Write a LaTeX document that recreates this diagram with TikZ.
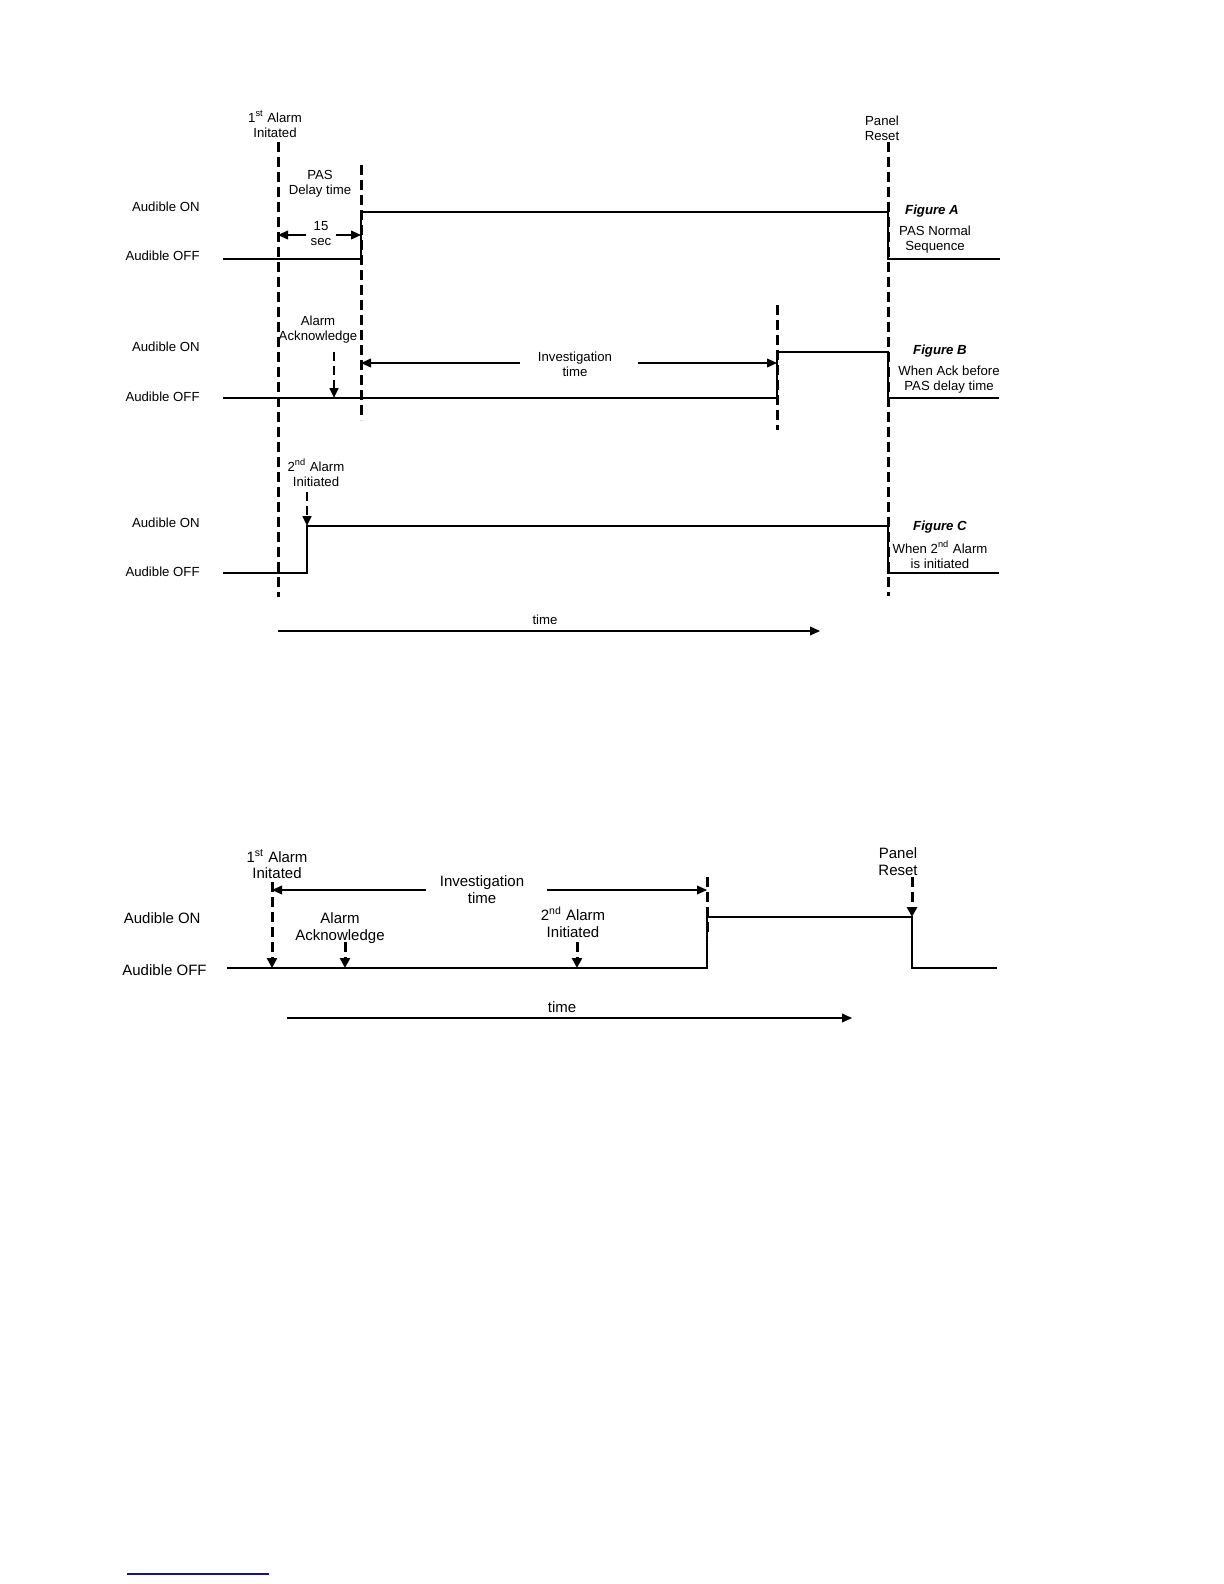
\documentclass[tikz,border=0pt]{standalone}
\usepackage{fontspec}
\setmainfont{Liberation Sans}
\usetikzlibrary{arrows.meta}
\definecolor{footblue}{RGB}{20,20,130}
\begin{document}
\begin{tikzpicture}[x=0.5pt,y=-0.5pt,
  t/.style={font=\fontsize{6.6}{7.5}\selectfont, align=center, inner sep=0pt},
  tt/.style={font=\fontsize{7.5}{8.3}\selectfont, align=center, inner sep=0pt},
  fig/.style={font=\fontsize{6.6}{7.5}\selectfont\bfseries\itshape, inner sep=0pt},
  sig/.style={line width=0.6pt},
  vdash/.style={line width=1.5pt, dash pattern=on 5pt off 2.5pt},
  adash/.style={line width=1.1pt, dash pattern=on 4.5pt off 2.5pt},
  tip/.style={-{Triangle[length=5pt,width=4.4pt]}},
  btip/.style={-{Triangle[length=5pt,width=5pt]}}
]
\useasboundingbox (0,0) rectangle (1224,1584);

% ================= Diagram 1 =================
% event labels
\node[t] (first)  at (275,124.5) {1\textsuperscript{st} Alarm\\Initated};
\node[t] (panel)  at (882,128)   {Panel\\Reset};
\node[t] (pas)    at (320,183.5) {PAS\\Delay time};
\node[t] (sec)    at (321,234)   {15\\sec};
\node[t] (ack)    at (318,330)   {Alarm\\Acknowledge};
\node[t] (inv)    at (575,364)   {Investigation\\time};
\node[t] (second) at (316,473)   {2\textsuperscript{nd} Alarm\\Initiated};
\node[t] (time)   at (545,620)   {time};

% level labels
\node[t,anchor=east] (onA)  at (200,207) {Audible ON};
\node[t,anchor=east] (offA) at (200,256) {Audible OFF};
\node[t,anchor=east] (onB)  at (200,347) {Audible ON};
\node[t,anchor=east] (offB) at (200,397) {Audible OFF};
\node[t,anchor=east] (onC)  at (200,523) {Audible ON};
\node[t,anchor=east] (offC) at (200,572) {Audible OFF};

% figure captions
\node[fig] (figA) at (932,211) {Figure A};
\node[t]   (capA) at (935,240) {PAS Normal\\Sequence};
\node[fig] (figB) at (940,351) {Figure B};
\node[t]   (capB) at (949,380) {When Ack before\\PAS delay time};
\node[fig] (figC) at (940,527) {Figure C};
\node[t]   (capC) at (940,555) {When 2\textsuperscript{nd} Alarm\\is initiated};

% vertical dashed markers
\coordinate (L1t) at (278,142); \coordinate (L1b) at (278,597);
\coordinate (L2t) at (361,165); \coordinate (L2b) at (361,420);
\coordinate (L3t) at (777,305); \coordinate (L3b) at (777,430);
\coordinate (LPt) at (888,142); \coordinate (LPb) at (888,596);
\draw[vdash] (L1t) -- (L1b);
\draw[vdash] (L2t) -- (L2b);
\draw[vdash] (L3t) -- (L3b);
\draw[vdash] (LPt) -- (LPb);

% Figure A signal
\draw[sig] (223,259) -- (361,259) -- (361,212) -- (888,212) -- (888,259) -- (1000,259);
% 15 sec arrows
\coordinate (sL) at (278,235); \coordinate (sR) at (361,235);
\draw[sig,tip] (sec.west |- sL) ++(-4,0) -- (sL);
\draw[sig,tip] (sec.east |- sR) ++(4,0) -- (sR);

% Figure B signal
\draw[sig] (223,398) -- (777,398) -- (777,352) -- (888,352) -- (888,398) -- (999,398);
% investigation time arrows
\coordinate (iL) at (361,363); \coordinate (iR) at (777,363);
\coordinate (iLs) at (520,363); \coordinate (iRs) at (638,363);
\draw[sig,tip] (iLs) -- (iL);
\draw[sig,tip] (iRs) -- (iR);
% acknowledge arrow
\coordinate (ackS) at (334,352); \coordinate (ackE) at (334,398);
\draw[adash,tip] (ackS) -- (ackE);

% Figure C signal
\draw[sig] (223,573) -- (307,573) -- (307,526) -- (888,526) -- (888,573) -- (999,573);
\coordinate (secS) at (307,492); \coordinate (secE) at (307,526);
\draw[adash,tip] (secS) -- (secE);

% time arrow
\coordinate (tS) at (278,631); \coordinate (tE) at (820,631);
\draw[sig,tip] (tS) -- (tE);

% ================= Diagram 2 =================
\node[tt] (first2)  at (277,864)   {1\textsuperscript{st} Alarm\\Initated};
\node[tt] (inv2)    at (482,889.5) {Investigation\\time};
\node[tt] (ack2)    at (340,928)   {Alarm\\Acknowledge};
\node[tt] (second2) at (573,922)   {2\textsuperscript{nd} Alarm\\Initiated};
\node[tt] (panel2)  at (898,861.5) {Panel\\Reset};
\node[tt] (time2)   at (562,1007)  {time};
\node[tt,anchor=east] (on2)  at (201,918) {Audible ON};
\node[tt,anchor=east] (off2) at (207,970) {Audible OFF};

% signal
\draw[sig] (227,968) -- (707,968) -- (707,917) -- (912,917) -- (912,968) -- (997,968);

% first alarm marker
\coordinate (m1t) at (272,882); \coordinate (m1b) at (272,968);
\draw[vdash,btip] (m1t) -- (m1b);
% investigation arrows
\coordinate (jL) at (272,890); \coordinate (jR) at (707,890);
\coordinate (jLs) at (426,890); \coordinate (jRs) at (547,890);
\draw[sig,tip] (jLs) -- (jL);
\draw[sig,tip] (jRs) -- (jR);
% end of investigation marker
\coordinate (m3t) at (707,877); \coordinate (m3b) at (707,937);
\draw[vdash] (m3t) -- (m3b);
% acknowledge and 2nd alarm arrows
\coordinate (a2s) at (345,942); \coordinate (a2e) at (345,968);
\draw[vdash,btip] (a2s) -- (a2e);
\coordinate (b2s) at (577,942); \coordinate (b2e) at (577,968);
\draw[vdash,btip] (b2s) -- (b2e);
% panel reset arrow
\coordinate (p2s) at (912,877); \coordinate (p2e) at (912,917);
\draw[vdash,btip] (p2s) -- (p2e);
% time arrow
\coordinate (t2S) at (287,1018); \coordinate (t2E) at (852,1018);
\draw[sig,tip] (t2S) -- (t2E);

% footnote rule
\coordinate (fnL) at (127,1574); \coordinate (fnR) at (269,1574);
\draw[footblue,line width=0.8pt] (fnL) -- (fnR);
\end{tikzpicture}
\end{document}
